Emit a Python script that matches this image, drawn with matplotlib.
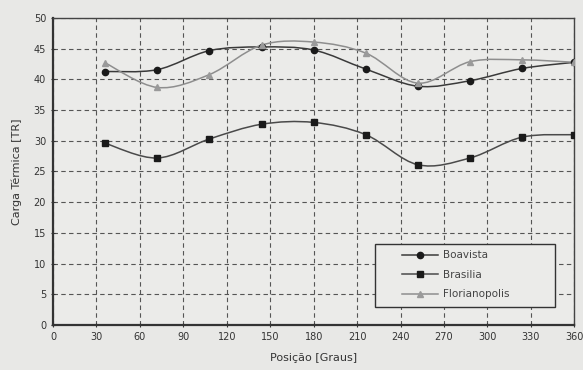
import numpy as np
import matplotlib
matplotlib.use('Agg')
import matplotlib.pyplot as plt
from matplotlib.path import Path
from matplotlib.patches import PathPatch, Rectangle

# Data
posicao = [36, 72, 108, 144, 180, 216, 252, 288, 324, 360]
boavista = [41.3, 41.6, 44.7, 45.3, 44.8, 41.7, 38.9, 39.8, 41.8, 42.8]
brasilia = [29.6, 27.2, 30.3, 32.7, 33.0, 31.0, 26.1, 27.2, 30.6, 31.0]
florianopolis = [42.7, 38.7, 40.8, 45.6, 46.1, 44.3, 39.4, 42.9, 43.2, 42.8]

x_ticks = list(range(0, 361, 30))
y_ticks = list(range(0, 51, 5))


def smooth_path(x, y):
    # Catmull-Rom through the points, drawn as cubic Bezier segments
    pts = np.column_stack([np.asarray(x, float), np.asarray(y, float)])
    verts = [pts[0]]
    codes = [Path.MOVETO]
    n = len(pts)
    for i in range(n - 1):
        p0 = pts[i - 1] if i > 0 else pts[i]
        p1 = pts[i]
        p2 = pts[i + 1]
        p3 = pts[i + 2] if i + 2 < n else pts[i + 1]
        verts += [p1 + (p2 - p0) / 6.0, p2 - (p3 - p1) / 6.0, p2]
        codes += [Path.CURVE4] * 3
    return Path(verts, codes)


bg = '#e8e8e6'
fig = plt.figure(figsize=(5.83, 3.70), dpi=100, facecolor=bg)
ax = fig.add_axes([0.091, 0.122, 0.894, 0.829])
ax.set_facecolor('#ebebe9')

series = [
    ('Boavista', boavista, '#3a3a3a', 'o', '#1a1a1a'),
    ('Brasilia', brasilia, '#4a4a4a', 's', '#1a1a1a'),
    ('Florianopolis', florianopolis, '#8e8e8e', '^', '#9a9a9a'),
]
for name, vals, col, mk, mcol in series:
    ax.add_patch(PathPatch(smooth_path(posicao, vals), facecolor='none',
                           edgecolor=col, lw=1.1, zorder=3))
    ax.plot(posicao, vals, linestyle='none', marker=mk, ms=4.5,
            color=mcol, zorder=4)
    ax.plot([], [], color=col, marker=mk, ms=4.5, mfc=mcol, mec=mcol,
            lw=1.1, label=name)

ax.set_xlim(0, 360)
ax.set_ylim(0, 50)
ax.set_xticks(x_ticks)
ax.set_yticks(y_ticks)
ax.tick_params(labelsize=7, colors='#333333', length=3, direction='inout')
ax.grid(True, linestyle=(0, (4, 3)), color='#555555', lw=0.8)
for s in ['left', 'bottom']:
    ax.spines[s].set_linewidth(1.6)
    ax.spines[s].set_color('#333333')
for s in ['top', 'right']:
    ax.spines[s].set_linewidth(1.0)
    ax.spines[s].set_color('#444444')

ax.set_xlabel('Posição [Graus]', fontsize=8, color='#333333', labelpad=8)
ax.set_ylabel('Carga Térmica [TR]', fontsize=8, color='#333333', labelpad=8)

# legend box drawn separately, entries placed inside without a frame
ax.add_patch(Rectangle((0.618, 0.058), 0.346, 0.206, transform=ax.transAxes,
                       facecolor='#ebebe9', edgecolor='#333333', lw=1.0,
                       zorder=5))
leg = ax.legend(loc='center left', bbox_to_anchor=(0.66, 0.163), fontsize=7.5,
                frameon=False, labelspacing=0.9, handlelength=3.4,
                handletextpad=0.5, borderpad=0)
leg.set_zorder(6)
for t in leg.get_texts():
    t.set_color('#444444')

fig.savefig('out.png', dpi=100, facecolor=bg)
